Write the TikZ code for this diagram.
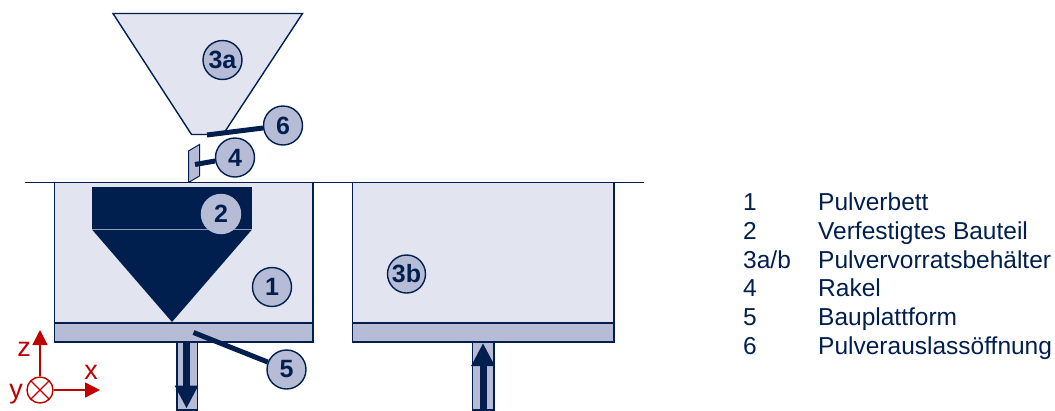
\documentclass[tikz,border=0pt]{standalone}
\usepackage{fontspec}
\setmainfont{Liberation Sans}
\usetikzlibrary{arrows.meta}
\definecolor{navy}{HTML}{001F4F}
\definecolor{powder}{HTML}{E2E4F0}
\definecolor{steel}{HTML}{B6BCD6}
\definecolor{axisred}{HTML}{C00000}
\begin{document}
\begin{tikzpicture}[x=1pt,y=-1pt,
    part/.style={draw=navy,line width=1.4pt,line join=miter},
    lbl/.style={circle,draw=navy,fill=steel,line width=1.4pt,minimum size=39pt,inner sep=0pt,text=navy,font=\fontsize{25}{28}\selectfont\bfseries},
    leader/.style={navy,line width=5pt},
    travel/.style={navy,line width=7pt,-{Triangle[length=23pt,width=22pt]}},
    axis/.style={axisred,line width=1.4pt,-{Triangle[length=15pt,width=15pt]}},
    legend/.style={anchor=base west,inner sep=0pt,text=navy,font=\fontsize{24.5}{28}\selectfont}]
    \useasboundingbox (0,0) rectangle (1055,410);

    % Define points of the leaders and the travel arrows
    \coordinate (outlet) at (207,135);
    \coordinate (blade) at (195,164.5);
    \coordinate (plate) at (193.5,332.5);
    \coordinate (downstart) at (186.5,342);
    \coordinate (downend) at (186.5,408.5);
    \coordinate (upstart) at (483,409);
    \coordinate (upend) at (483,343);
    \coordinate (yaxis) at (40,390);
    \coordinate (ztip) at (40,330);
    \coordinate (xtip) at (100,390);

    % Hopper
    \draw[part,fill=powder] (113,13.5) -- (302.5,13.5) -- (223,134.5) -- (191.5,134.5) -- cycle;

    % Recoater blade
    \draw[part,fill=steel,line width=1pt] (188.5,151) -- (199.5,144.5) -- (199.5,176) -- (188.5,182.5) -- cycle;

    % Pistons below the platforms
    \draw[part,fill=steel] (177,342) rectangle (197.5,410);
    \draw[part,fill=steel] (472.5,342) rectangle (494,410);

    % Powder beds and platforms
    \draw[part,fill=powder] (54.5,182.5) rectangle (313,323);
    \draw[part,fill=steel] (54.5,323) rectangle (313,342);
    \draw[part,fill=powder] (352.5,182.5) rectangle (614,323);
    \draw[part,fill=steel] (352.5,323) rectangle (614,342);

    % Table line
    \draw[navy,line width=1.2pt] (25,182.5) -- (644,182.5);

    % Built part
    \fill[navy] (92,187) rectangle (252,228.5);
    \fill[navy] (92,229.5) -- (252,229.5) -- (172,322) -- cycle;

    % Travel arrows
    \draw[travel] (downstart) -- (downend);
    \draw[travel] (upstart) -- (upend);

    % Numbered labels
    \node[lbl] (lbla) at (222.5,60) {3a};
    \node[lbl] (lblf) at (283,125.5) {6};
    \node[lbl] (lbld) at (235,157.5) {4};
    \node[lbl,draw=steel] (lblb) at (221,214) {2};
    \node[lbl] (lbln) at (272,287) {1};
    \node[lbl,minimum size=38pt] (lblc) at (406.5,274) {3b};
    \node[lbl] (lble) at (286.5,369.5) {5};

    % Leaders
    \draw[leader] (outlet) -- (lblf);
    \draw[leader] (blade) -- (lbld);
    \draw[leader] (plate) -- (lble);

    % Coordinate system
    \node[circle,draw=axisred,line width=1.4pt,minimum size=26pt,inner sep=0pt] (ycirc) at (yaxis) {};
    \draw[axisred,line width=1.4pt] (ycirc.north west) -- (ycirc.south east);
    \draw[axisred,line width=1.4pt] (ycirc.north east) -- (ycirc.south west);
    \draw[axis] (ycirc) -- (ztip);
    \draw[axis] (ycirc) -- (xtip);
    \node[text=axisred,font=\fontsize{27}{30}\selectfont] (zlbl) at (24,349) {z};
    \node[text=axisred,font=\fontsize{27}{30}\selectfont] (xlbl) at (91,372) {x};
    \node[text=axisred,font=\fontsize{27}{30}\selectfont] (ylbl) at (16,394) {y};

    % Legend
    \foreach \num/\txt/\ypos in {1/Pulverbett/210.5, 2/Verfestigtes Bauteil/239, 3a\slash b/Pulvervorratsbehälter/268, 4/Rakel/296.5, 5/Bauplattform/325, 6/Pulverauslassöffnung/354.5} {
        \node[legend] at (743,\ypos) {\num};
        \node[legend] at (818,\ypos) {\txt};
    }
\end{tikzpicture}
\end{document}
